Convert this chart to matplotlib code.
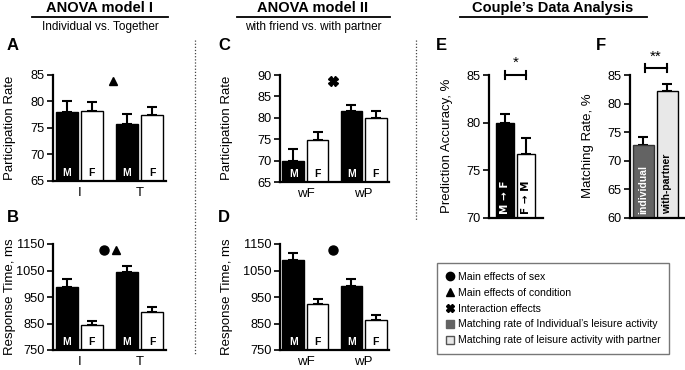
import matplotlib.pyplot as plt
from matplotlib.lines import Line2D
import numpy as np

plt.rcParams['font.family'] = ['Liberation Sans', 'DejaVu Sans']

W, H = 685, 370

# ---- data ----
sexes = ['M', 'F']
groups_A = ['I', 'T']
rate_A = [78.0, 78.3, 75.8, 77.4]
rate_A_err = [2.0, 1.6, 1.9, 1.6]
rt_B = [987, 843, 1043, 895]
rt_B_err = [30, 18, 25, 18]

groups_C = ['wF', 'wP']
rate_C = [70.0, 74.8, 81.5, 80.0]
rate_C_err = [2.7, 1.8, 1.6, 1.7]
rt_D = [1090, 922, 993, 863]
rt_D_err = [27, 20, 25, 18]

pred_labels = ['M \u2192 F', 'F \u2192 M']
pred_acc = [80.0, 76.7]
pred_err = [0.9, 1.7]

match_labels = ['individual', 'with-partner']
match_rate = [72.8, 82.2]
match_err = [1.4, 1.2]

fig = plt.figure(figsize=(W / 100, H / 100), dpi=100)


def px_axes(l, t, r, b):
    return fig.add_axes([l / W, 1 - b / H, (r - l) / W, (b - t) / H])


def style(ax, ylim, yticks):
    ax.set_ylim(*ylim)
    ax.set_yticks(yticks)
    for s in ['top', 'right']:
        ax.spines[s].set_visible(False)
    ax.spines['left'].set_linewidth(1.6)
    ax.spines['bottom'].set_linewidth(1.6)
    ax.tick_params(axis='y', length=4, width=1.2, labelsize=9.2, pad=2)
    ax.tick_params(axis='x', length=0, labelsize=9.5, pad=4)
    ax.patch.set_alpha(0)


def sex_panel(ax, vals, errs, groups, ylim, yticks):
    x = np.array([0, 1, 2.4, 3.4])
    colors = ['black', 'white', 'black', 'white']
    ax.bar(x, vals, width=0.9, color=colors, edgecolor='black', linewidth=1, zorder=2)
    ax.errorbar(x, vals, yerr=[np.zeros(4), errs], fmt='none', ecolor='black',
                elinewidth=1.5, capsize=3.5, capthick=1.5, zorder=1)
    for xi, lab in zip(x, sexes * 2):
        ax.annotate(lab, (xi, 0), xycoords=('data', 'axes fraction'), xytext=(0, 2),
                    textcoords='offset points', ha='center', va='bottom', fontsize=7.5,
                    fontweight='bold', color='white' if lab == 'M' else 'black', zorder=3)
    ax.set_xlim(-0.55, 3.95)
    ax.set_xticks([0.5, 2.9])
    ax.set_xticklabels(groups)
    style(ax, ylim, yticks)


# A
axA = px_axes(53, 75, 166, 181)
sex_panel(axA, rate_A, rate_A_err, groups_A, (65, 85), [65, 70, 75, 80, 85])
axA.plot([1.85], [83.8], marker='^', color='black', ms=6, clip_on=False)

# B
axB = px_axes(53, 244, 166, 350)
sex_panel(axB, rt_B, rt_B_err, groups_A, (750, 1150), [750, 850, 950, 1050, 1150])
axB.plot([1.5], [1128], marker='o', color='black', ms=6.5, clip_on=False)
axB.plot([1.95], [1128], marker='^', color='black', ms=6, clip_on=False)

# C
axC = px_axes(280, 75, 389, 182)
sex_panel(axC, rate_C, rate_C_err, groups_C, (65, 90), [65, 70, 75, 80, 85, 90])
axC.plot([1.65], [88.7], marker='X', color='black', ms=6.5, clip_on=False)

# D
axD = px_axes(280, 244, 389, 350)
sex_panel(axD, rt_D, rt_D_err, groups_C, (750, 1150), [750, 850, 950, 1050, 1150])
axD.plot([1.65], [1127], marker='o', color='black', ms=6.5, clip_on=False)

# E
axE = px_axes(489, 75, 543, 218)
xe = np.array([0, 1])
axE.bar(xe, pred_acc, width=0.88, color=['black', 'white'], edgecolor='black', linewidth=1, zorder=2)
axE.errorbar(xe, pred_acc, yerr=[np.zeros(2), pred_err], fmt='none', ecolor='black',
             elinewidth=1.5, capsize=3.5, capthick=1.5, zorder=1)
for xi, lab, c in zip(xe, pred_labels, ['white', 'black']):
    axE.annotate(lab, (xi, 0), xycoords=('data', 'axes fraction'), xytext=(0, 3),
                 textcoords='offset points', ha='center', va='bottom', rotation=90,
                 fontsize=7.5, fontweight='bold', color=c, zorder=3, family='DejaVu Sans')
axE.set_xlim(-0.75, 1.8)
axE.set_xticks([])
style(axE, (70, 85), [70, 75, 80, 85])
axE.plot([0, 1], [85, 85], color='black', lw=1.5, clip_on=False)
axE.plot([0, 0], [84.6, 85.4], color='black', lw=1.5, clip_on=False)
axE.plot([1, 1], [84.6, 85.4], color='black', lw=1.5, clip_on=False)
axE.text(0.5, 85.5, '*', ha='center', va='bottom', fontsize=11)

# F
axF = px_axes(630, 75, 684, 218)
xf = np.array([0, 1])
axF.bar(xf, match_rate, width=0.88, color=['#636363', '#e8e8e8'], edgecolor=['#333333', 'black'],
        linewidth=1, zorder=2)
axF.errorbar(xf, match_rate, yerr=[np.zeros(2), match_err], fmt='none', ecolor='black',
             elinewidth=1.5, capsize=3.5, capthick=1.5, zorder=1)
for xi, lab, c in zip(xf, match_labels, ['white', 'black']):
    axF.annotate(lab, (xi, 0), xycoords=('data', 'axes fraction'), xytext=(0, 3),
                 textcoords='offset points', ha='center', va='bottom', rotation=90,
                 fontsize=7.5, fontweight='bold', color=c, zorder=3)
axF.set_xlim(-0.56, 1.7)
axF.set_xticks([])
style(axF, (60, 85), [60, 65, 70, 75, 80, 85])
axF.plot([0.05, 0.97], [86.3, 86.3], color='black', lw=1.5, clip_on=False)
axF.plot([0.05, 0.05], [85.6, 87.0], color='black', lw=1.5, clip_on=False)
axF.plot([0.97, 0.97], [85.6, 87.0], color='black', lw=1.5, clip_on=False)
axF.text(0.5, 87.0, '**', ha='center', va='bottom', fontsize=11)

# y labels
ylabels = [(10, 128, 'Participation Rate'), (10, 297, 'Response Time, ms'),
           (227, 128, 'Participation Rate'), (227, 297, 'Response Time, ms'),
           (447, 146, 'Prediction Accuracy, %'), (588, 146, 'Matching Rate, %')]
for x, y, t in ylabels:
    fig.text(x / W, 1 - y / H, t, rotation=90, ha='center', va='center', fontsize=9.5)

# panel letters
for x, y, t in [(7, 45, 'A'), (7, 217, 'B'), (218, 45, 'C'), (218, 217, 'D'),
                (436, 45, 'E'), (596, 45, 'F')]:
    fig.text(x / W, 1 - y / H, t, ha='left', va='center', fontsize=12, fontweight='bold')

# section titles
for cx, x0, x1, title, sub in [(100, 32, 168, 'ANOVA model I', 'Individual vs. Together'),
                               (313, 237, 390, 'ANOVA model II', 'with friend vs. with partner'),
                               (553, 460, 647, "Couple\u2019s Data Analysis", None)]:
    fig.text(cx / W, 1 - 8 / H, title, ha='center', va='center', fontsize=10.5, fontweight='bold')
    fig.add_artist(Line2D([x0 / W, x1 / W], [1 - 17 / H, 1 - 17 / H], color='black', lw=1.3))
    if sub:
        fig.text(cx / W, 1 - 27 / H, sub, ha='center', va='center', fontsize=8.5)

# dotted separators
fig.add_artist(Line2D([195 / W, 195 / W], [1 - 40 / H, 1 - 354 / H], color='#444444',
                      lw=0.9, linestyle=(0, (1, 1.5))))
fig.add_artist(Line2D([416 / W, 416 / W], [1 - 40 / H, 1 - 220 / H], color='#444444',
                      lw=0.9, linestyle=(0, (1, 1.5))))

# legend
handles = [
    Line2D([], [], marker='o', color='black', ls='none', ms=6),
    Line2D([], [], marker='^', color='black', ls='none', ms=6),
    Line2D([], [], marker='X', color='black', ls='none', ms=6),
    Line2D([], [], marker='s', color='#636363', ls='none', ms=5.5),
    Line2D([], [], marker='s', markerfacecolor='#e8e8e8', markeredgecolor='#555555', ls='none', ms=5.5),
]
labels = ['Main effects of sex', 'Main effects of condition', 'Interaction effects',
          'Matching rate of Individual\u2019s leisure activity',
          'Matching rate of leisure activity with partner']
leg = fig.legend(handles, labels, loc='upper left', bbox_to_anchor=(437 / W, 1 - 263 / H),
                 frameon=True, fancybox=False, edgecolor='#555555', fontsize=7.6,
                 handlelength=0.7, handletextpad=0.4, labelspacing=0.55, borderpad=0.85,
                 borderaxespad=0)
leg.get_frame().set_linewidth(1.0)

fig.savefig('out.png', dpi=100)
